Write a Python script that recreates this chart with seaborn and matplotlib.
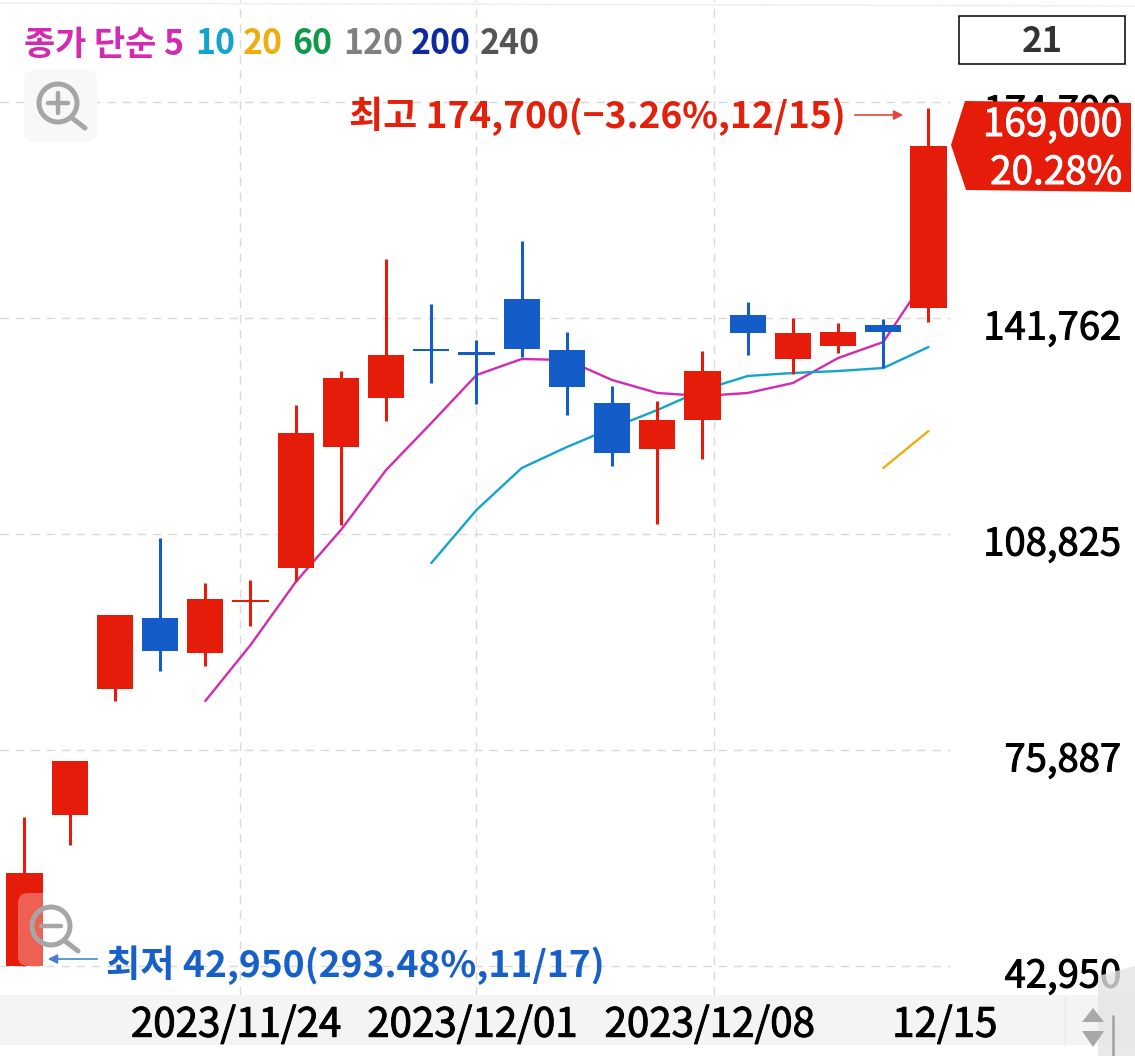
import matplotlib
matplotlib.use("Agg")
import matplotlib.pyplot as plt
import matplotlib.patheffects as pe
import matplotlib.transforms as mtransforms
from matplotlib.patches import Circle, FancyBboxPatch, Polygon, Rectangle
import pandas as pd
import seaborn as sns

# candles
opens = [42950, 65980, 85190, 96020, 90680, 98460, 103640, 122090, 129560, 137040, 136580,
         144660, 136880, 128800, 121790, 126210, 142220, 135510, 137490, 140700, 143290]
closes = [57130, 74210, 96470, 90980, 98910, 98760, 124230, 132610, 136120, 136730, 136120,
          137040, 131240, 121180, 126210, 133680, 139480, 139480, 139630, 139630, 168000]
highs = [65670, 74210, 96470, 108220, 101350, 101810, 128500, 133680, 150760, 143900, 138410,
         153510, 139630, 131390, 129110, 136730, 144200, 141760, 141000, 141610, 173790]
lows = [42950, 61400, 83360, 87930, 88700, 94800, 101660, 110200, 126060, 131850, 128650,
        135820, 126970, 119200, 110350, 120260, 136120, 133220, 136430, 134140, 141150]

ma5_days = list(range(4, 21))
ma5 = [83360, 91900, 101510, 109440, 118590, 125750, 133070, 135510, 135360, 132310, 130330,
       129870, 130330, 131850, 135660, 138100, 148470]
ma10_days = list(range(9, 21))
ma10 = [104400, 112490, 118890, 122090, 124990, 127730, 130780, 132920, 133380, 133680, 134140,
        137340]
ma20_days = [19, 20]
ma20 = [118890, 124530]

y_ticks = [174700, 141762, 108825, 75887, 42950]
y_labels = ["174,700", "141,762", "108,825", "75,887", "42,950"]
x_ticks = [4.77, 10.0, 15.25, 20.45]
x_labels = ["2023/11/24", "2023/12/01", "2023/12/08", "12/15"]

legend_items = ["종가 단순 5", "10", "20", "60", "120", "200", "240"]
legend_colors = ["#d42ab0", "#12a5c9", "#f0ad10", "#0f9a4a", "#808080", "#0f2a9e", "#555555"]

RED = "#e61c0a"
BLUE = "#145cc8"
W, H = 1135, 1056

sns.set_theme(style="white")
plt.rcParams["font.family"] = ["Noto Sans CJK KR", "DejaVu Sans"]
plt.rcParams["axes.unicode_minus"] = False

fig = plt.figure(figsize=(W / 100, H / 100), dpi=100, facecolor="white")

# grey date band sits under everything
back = fig.add_axes([0, 0, 1, 1], zorder=0)
back.set_xlim(0, W)
back.set_ylim(H, 0)
back.axis("off")
back.add_patch(Rectangle((0, 995), W, 50, color="#f4f4f4", lw=0))
back.plot([0, W], [3, 6], color="#eeeeee", lw=1)

# main chart, 950 px wide and 995 px tall
ax = fig.add_axes([0, 1 - 995 / H, 950 / W, 995 / H], zorder=1)
ax.patch.set_alpha(0)
ax.set_xlim(-0.542, 20.476)
ax.set_ylim(38528, 190255)
sns.despine(ax=ax, left=True, bottom=True, top=True, right=True)

days = pd.DataFrame({"open": opens, "close": closes, "high": highs, "low": lows})
days["color"] = [RED if c >= o else BLUE for o, c in zip(opens, closes)]

ax.vlines(days.index, days["low"], days["high"], colors=days["color"], lw=2.2, zorder=3)
ax.bar(days.index, (days["close"] - days["open"]).abs(), bottom=days[["open", "close"]].min(axis=1),
       width=0.8, color=days["color"], lw=0, zorder=4)

sns.lineplot(x=ma5_days, y=ma5, color="#d42ab0", lw=1.7, ax=ax, zorder=2)
sns.lineplot(x=ma10_days, y=ma10, color="#12a5c9", lw=1.7, ax=ax, zorder=2)
sns.lineplot(x=ma20_days, y=ma20, color="#f0ad10", lw=1.7, ax=ax, zorder=2)
ax.set_xlabel("")
ax.set_ylabel("")

ax.set_yticks(y_ticks, y_labels)
ax.set_xticks(x_ticks, x_labels)
ax.yaxis.tick_right()
ax.tick_params(axis="y", length=0, pad=171 * 0.72, labelsize=27.5, labelcolor="black")
ax.tick_params(axis="x", length=0, pad=7, labelsize=29, labelcolor="black")
ax.grid(True, color="#d9d9d9", ls=(0, (6, 5)), lw=1)
ax.set_axisbelow(True)
ax.xaxis.get_major_ticks()[-1].gridline.set_visible(False)

heavy = [pe.withStroke(linewidth=0.7, foreground="black")]
down = mtransforms.ScaledTranslation(0, -6.5 * 0.72 / 72, fig.dpi_scale_trans)
left = mtransforms.ScaledTranslation(-4 * 0.72 / 72, 0, fig.dpi_scale_trans)
for lbl in ax.get_yticklabels():
    lbl.set_ha("right")
    lbl.set_transform(lbl.get_transform() + down)
    lbl.set_path_effects(heavy)
for lbl in ax.get_xticklabels():
    lbl.set_transform(lbl.get_transform() + left)
    lbl.set_path_effects(heavy)

# everything else is screen furniture, in pixels
top = fig.add_axes([0, 0, 1, 1], zorder=2)
top.patch.set_alpha(0)
top.set_xlim(0, W)
top.set_ylim(H, 0)
top.axis("off")

legend_x = [24, 195, 243, 292, 343, 411, 480]
for txt, col, x in zip(legend_items, legend_colors, legend_x):
    top.text(x, 44, txt, color=col, fontsize=24.4, fontweight="bold", va="center", ha="left")

top.add_patch(Rectangle((959, 16), 166, 48, fc="white", ec="black", lw=1.1))
top.text(1042, 42, "21", color="#333333", fontsize=25, fontweight="bold", ha="center", va="center")

top.text(349, 116, "최고 174,700(−3.26%,12/15)", color="#e3200c", fontsize=26.7, fontweight="bold",
         ha="left", va="center")
top.annotate("", xy=(906, 115), xytext=(852, 115),
             arrowprops=dict(arrowstyle="-|>", color="#e0493a", lw=1.2, mutation_scale=14))
top.text(106, 965, "최저 42,950(293.48%,11/17)", color="#1660c8", fontsize=26.8, fontweight="bold",
         ha="left", va="center")
top.annotate("", xy=(45, 959), xytext=(100, 959),
             arrowprops=dict(arrowstyle="-|>", color="#4a80d4", lw=1.2, mutation_scale=14))

top.add_patch(Polygon([(965, 101), (1131, 103), (1131, 192), (966, 190), (951, 145)], color=RED, lw=0))
white_heavy = [pe.withStroke(linewidth=0.7, foreground="white")]
top.text(1122, 125, "169,000", color="white", fontsize=27.8, ha="right", va="center", path_effects=white_heavy)
top.text(1122, 173, "20.28%", color="white", fontsize=27.8, ha="right", va="center", path_effects=white_heavy)

# zoom buttons
GREY = "#a6a6a6"
top.add_patch(FancyBboxPatch((24, 70), 73, 72, boxstyle="round,pad=0,rounding_size=10", fc="#f8f8f8", lw=0, zorder=1))
top.add_patch(Circle((58, 103), 19, fc="none", ec=GREY, lw=3.6, zorder=2))
top.plot([48, 68], [103, 103], color=GREY, lw=3.2, zorder=2)
top.plot([58, 58], [93, 113], color=GREY, lw=3.2, zorder=2)
top.plot([72, 85], [118, 128], color=GREY, lw=3.6, zorder=2)

top.add_patch(FancyBboxPatch((18, 893), 73, 73, boxstyle="round,pad=0,rounding_size=10", fc="white", alpha=0.3, lw=0, zorder=1))
top.add_patch(Circle((51, 926), 19, fc="none", ec=GREY, lw=3.6, zorder=2))
top.plot([41, 61], [926, 926], color=GREY, lw=3.2, zorder=2)
top.plot([65, 78], [941, 951], color=GREY, lw=3.6, zorder=2)

# scroll widget, bottom right
top.add_patch(Polygon([(1098, 976), (1135, 966), (1135, 1056), (1098, 1056)], fc="#e4e4e4", alpha=0.8, lw=0))
top.add_patch(Polygon([(1082, 1022), (1104, 1022), (1093, 1008)], color="#a8a8a8", lw=0))
top.add_patch(Polygon([(1082, 1031), (1104, 1031), (1093, 1047)], color="#a8a8a8", lw=0))
top.plot([1113, 1113], [1016, 1056], color="#a8a8a8", lw=2)
top.plot([1065, 1065], [997, 1045], color="#e8e8e8", lw=1)

fig.savefig("out.png", dpi=100)
